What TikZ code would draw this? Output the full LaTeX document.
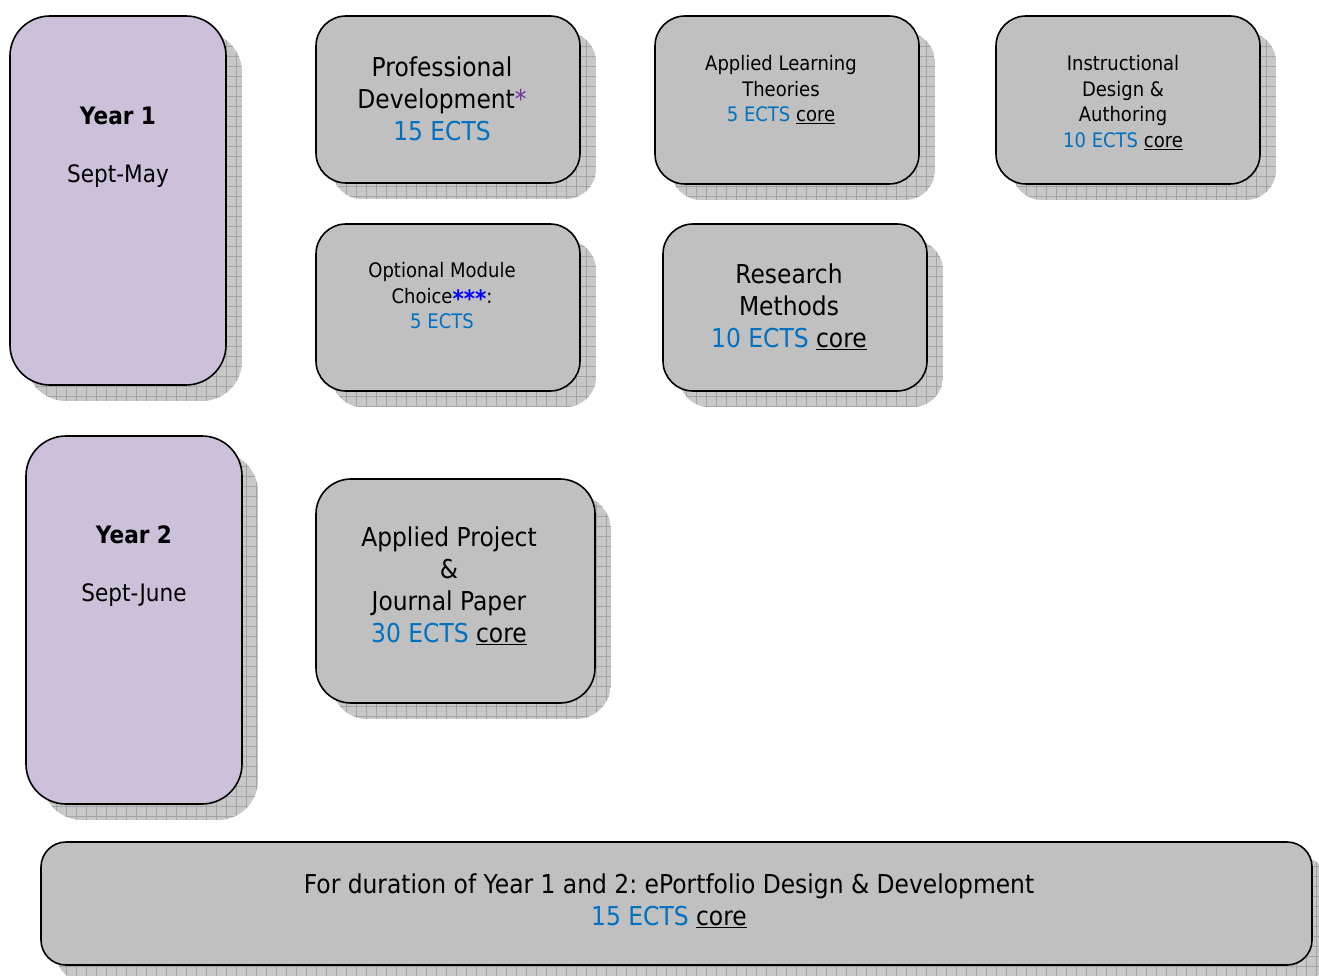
\documentclass[tikz,border=0pt]{standalone}
\usepackage{fontspec}
\setmainfont[FakeStretch=0.9]{DejaVu Sans}
\frenchspacing
\definecolor{lavender}{HTML}{CCC0DA}
\definecolor{boxgray}{HTML}{C0C0C0}
\definecolor{ectsblue}{HTML}{0070C0}
\definecolor{astpurple}{HTML}{7030A0}
\definecolor{astblue}{HTML}{0000FF}
\definecolor{shadowfill}{HTML}{C8C8C8}
\definecolor{shadowgrid}{HTML}{A4A4A4}
\tikzset{
  modbox/.style={draw=black, line width=1.6pt, inner sep=0pt},
  bigtext/.style={font=\fontsize{26}{32}\selectfont, align=center, inner sep=0pt},
  midtext/.style={font=\fontsize{20}{25.5}\selectfont, align=center, inner sep=0pt},
  yrtext/.style={font=\fontsize{24}{29}\selectfont, inner sep=0pt},
}
\newcommand\ects[1]{{\color{ectsblue}#1}}
\newcommand\modbox[7]{%
  \begin{scope}[shift={(16,16)}]
    \clip[rounded corners=#6] (#2,#3) rectangle (#4,#5);
    \fill[shadowfill] (#2,#3) rectangle (#4,#5);
    \draw[shadowgrid, line width=0.7pt, step=10pt] (#2,#5) grid (#4,#3);
  \end{scope}
  \node[modbox, fill=#7, rounded corners=#6, minimum width={#4-#2}, minimum height={#5-#3}] (#1) at ({(#2+#4)/2},{(#3+#5)/2}) {};
}
\begin{document}
\begin{tikzpicture}[x=1pt, y=-1pt]
\useasboundingbox (0,0) rectangle (1319,976);
\modbox{year1}{10}{16}{226}{385}{40}{lavender}
\modbox{profdev}{316}{16}{580}{183}{30}{boxgray}
\modbox{alt}{655}{16}{919}{184}{30}{boxgray}
\modbox{ida}{996}{16}{1260}{184}{30}{boxgray}
\modbox{optional}{316}{224}{580}{391}{30}{boxgray}
\modbox{research}{663}{224}{927}{391}{30}{boxgray}
\modbox{year2}{26}{436}{242}{804}{40}{lavender}
\modbox{project}{316}{479}{595}{703}{35}{boxgray}
\modbox{eport}{41}{842}{1312}{965}{25}{boxgray}

\node[yrtext, font=\fontsize{24}{29}\selectfont\bfseries] (y1title) at (118,116) {Year 1};
\node[yrtext] (y1sub) at (118,176) {Sept-May};
\node[yrtext, font=\fontsize{24}{29}\selectfont\bfseries] (y2title) at (134,535) {Year 2};
\node[yrtext] (y2sub) at (134,595) {Sept-June};

\node[bigtext] (tprofdev) at (442,99) {Professional\\Development{\color{astpurple}*}\\\ects{15 ECTS}};
\node[midtext] (talt) at (781,90) {Applied Learning\\Theories\\\ects{5 ECTS} \underline{core}};
\node[midtext] (tida) at (1123,102.5) {Instructional\\Design \&\\Authoring\\\ects{10 ECTS} \underline{core}};
\node[midtext] (topt) at (442,296) {Optional Module\\Choice\raisebox{-4pt}{\color{astblue}\fontsize{24}{25.5}\selectfont\bfseries ***}:\\\ects{5 ECTS}};
\node[bigtext] (tres) at (789,307) {Research\\Methods\\\ects{10 ECTS} \underline{core}};
\node[bigtext] (tproj) at (449,586) {Applied Project\\\&\\Journal Paper\\\ects{30 ECTS} \underline{core}};
\node[bigtext] (teport) at (669,901) {For duration of Year 1 and 2: ePortfolio Design \& Development\\\ects{15 ECTS} \underline{core}};
\end{tikzpicture}
\end{document}
